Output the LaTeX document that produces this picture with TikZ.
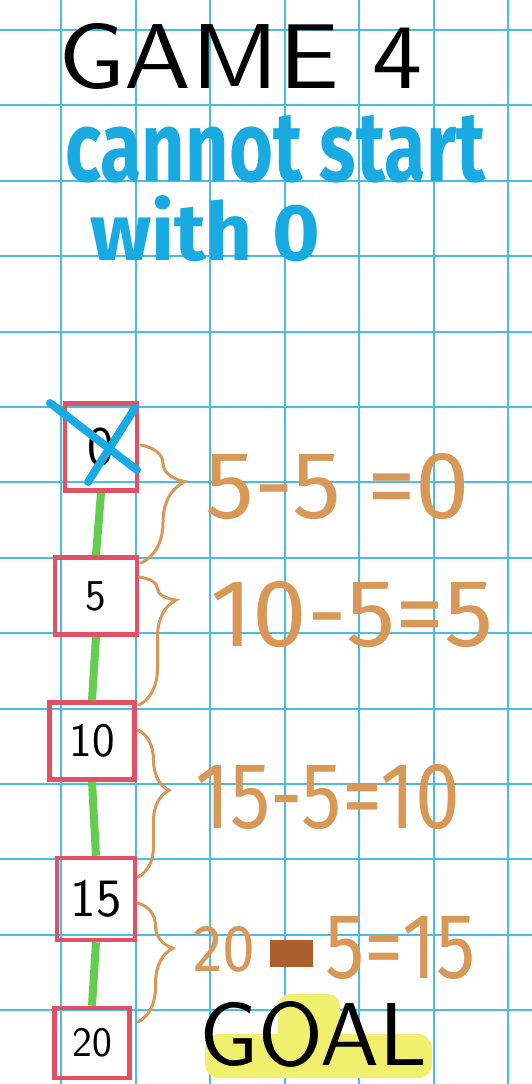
\documentclass[tikz,border=0pt]{standalone}
\usepackage{fontspec}
\setmainfont{Fira Sans}
\newcommand\lightfont{\sffamily}
\newcommand\thinfont{\sffamily}
\usetikzlibrary{decorations.pathreplacing}
\definecolor{gridc}{RGB}{75,188,228}
\definecolor{bluetext}{RGB}{25,170,225}
\definecolor{boxred}{RGB}{225,80,100}
\definecolor{greenl}{RGB}{100,205,80}
\definecolor{orangeb}{RGB}{215,152,88}
\definecolor{blot}{RGB}{170,95,45}
\definecolor{hl}{RGB}{240,240,110}
\begin{document}
\begin{tikzpicture}[x=1pt,y=-1pt,
  gridline/.style={draw=gridc, line width=2pt},
  numbox/.style={draw=boxred, line width=4.5pt, inner sep=0pt, text=black},
  link/.style={draw=greenl, line width=8pt},
  curly/.style 2 args={draw=orangeb, line width=3pt, line cap=round, decorate,
    decoration={brace, amplitude=#1, aspect=#2}},
  eqtext/.style={anchor=south west, inner sep=0pt, text=orangeb},
  cross/.style={draw=bluetext, line width=8pt, line cap=round},
  bluenote/.style={anchor=south west, inner sep=0pt, text=bluetext}]
\useasboundingbox (0,0) rectangle (532,1084);
\fill[white] (0,0) rectangle (532,1084);
\begin{scope}
\clip (0,0) rectangle (532,1084);
\foreach \k in {0,...,6} \draw[gridline] ({61+74.5*\k},0) -- ({61+74.5*\k},1084);
\foreach \k in {0,...,14} \draw[gridline] (0,{30+75.4*\k}) -- (532,{30+75.4*\k});
\end{scope}

% title and note
\node[anchor=south west, inner sep=0pt, text=black] (title) at (58,90)
  {\resizebox{364pt}{65pt}{\thinfont GAME 4}};
\node[bluenote] (note1) at (65,183)
  {\resizebox{420pt}{66pt}{\bfseries cannot start}};
\node[bluenote] (note2) at (90,262)
  {\resizebox{230pt}{65pt}{\bfseries with 0}};

% number boxes
\node[numbox, minimum width=72pt, minimum height=87pt, font=\lightfont\fontsize{56}{56}\selectfont] (b0) at (101,447) {0};
\node[numbox, minimum width=82pt, minimum height=77pt, font=\lightfont\fontsize{44}{44}\selectfont] (b5) at (96,596) {5};
\node[numbox, minimum width=85pt, minimum height=77pt, font=\lightfont\fontsize{48}{48}\selectfont] (b10) at (92,741) {10};
\node[numbox, minimum width=78pt, minimum height=82pt, font=\lightfont\fontsize{54}{54}\selectfont] (b15) at (96,899) {15};
\node[numbox, minimum width=75pt, minimum height=70pt, font=\lightfont\fontsize{42}{42}\selectfont] (b20) at (92,1043) {20};

% green links
\draw[link] (b0.south) -- (b5.north);
\draw[link] (b5.south) -- (b10.north);
\draw[link] (b10.south) -- (b15.north);
\draw[link] (b15.south) -- (b20.north);

% cross over 0
\coordinate (xa1) at (50,403);
\coordinate (xa2) at (137,470);
\coordinate (xb1) at (135,408);
\coordinate (xb2) at (88,482);
\draw[cross] (xa1) -- (xa2);
\draw[cross] (xb1) -- (xb2);

% braces
\coordinate (r1a) at (141,445); \coordinate (r1b) at (141,563);
\coordinate (r2a) at (139,577); \coordinate (r2b) at (139,705);
\coordinate (r3a) at (138,730); \coordinate (r3b) at (138,877);
\coordinate (r4a) at (138,903); \coordinate (r4b) at (138,1022);
\draw[curly={44pt}{0.31}] (r1a) -- (r1b);
\draw[curly={37pt}{0.18}] (r2a) -- (r2b);
\draw[curly={31pt}{0.41}] (r3a) -- (r3b);
\draw[curly={35pt}{0.38}] (r4a) -- (r4b);

% equations
\node[eqtext] (e1) at (205,520) {\resizebox{265pt}{65pt}{5-5 =0}};
\node[eqtext] (e2) at (210,648) {\resizebox{283pt}{65pt}{10-5=5}};
\node[eqtext] (e3) at (195,830) {\resizebox{265pt}{64pt}{15-5=10}};
\node[eqtext] (e4a) at (193,972) {\resizebox{62pt}{45pt}{20}};
\fill[blot] (270,940) rectangle (313,967);
\node[eqtext] (e4b) at (325,980) {\resizebox{150pt}{62pt}{5=15}};

% goal
\fill[hl, rounded corners=14pt] (205,1034) rectangle (432,1078);
\fill[hl, rounded corners=12pt] (278,994) rectangle (340,1045);
\node[anchor=south west, inner sep=0pt, text=black] (goal) at (199,1068)
  {\resizebox{228pt}{64pt}{\lightfont GOAL}};
\end{tikzpicture}
\end{document}
